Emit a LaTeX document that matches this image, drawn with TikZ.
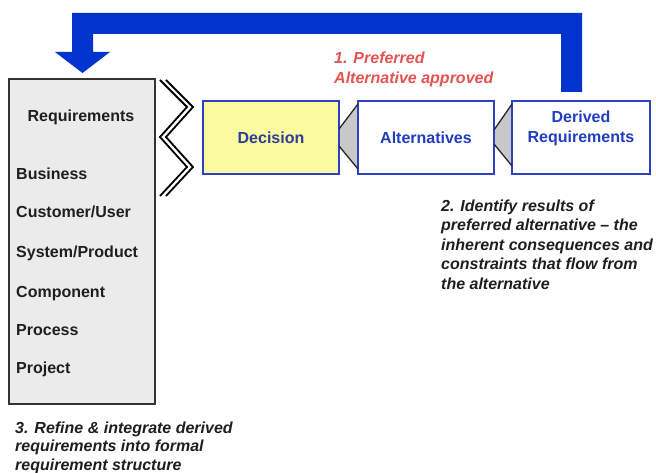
\documentclass[tikz,border=0pt]{standalone}
\usepackage{fontspec}
\setmainfont{Liberation Sans}
\usetikzlibrary{backgrounds}

\definecolor{loopblue}{RGB}{0,52,204}
\definecolor{boxblue}{RGB}{48,64,196}
\definecolor{decfill}{RGB}{250,250,160}
\definecolor{reqfill}{RGB}{235,235,235}
\definecolor{decink}{RGB}{45,62,150}
\definecolor{stageink}{RGB}{32,62,190}
\definecolor{noteink}{RGB}{30,30,30}
\definecolor{approvedred}{RGB}{228,82,82}
\definecolor{wedgegray}{RGB}{200,200,200}

\tikzset{
  stagebox/.style={draw=boxblue, line width=2pt, fill=white,
    minimum width=136pt, minimum height=73pt, inner sep=0pt, outer sep=0pt,
    font=\bfseries\fontsize{16}{20}\selectfont, text=stageink},
  reqbox/.style={draw=black!80, line width=2pt, fill=reqfill,
    minimum width=146pt, minimum height=325pt, inner sep=0pt, outer sep=0pt},
  reqitem/.style={anchor=base west, inner sep=0pt,
    font=\bfseries\fontsize{16}{19}\selectfont, text=noteink},
  note/.style={anchor=north west, inner sep=0pt, align=left,
    font=\bfseries\itshape\fontsize{16}{19.5}\selectfont, text=noteink},
  wedge/.style={fill=wedgegray},
  wedgeedge/.style={draw=black!85, line width=1.3pt},
  zigzag/.style={draw=black, line width=1.8pt, line join=miter},
}

\begin{document}
\begin{tikzpicture}[x=1pt, y=-1pt]
\useasboundingbox (0,0) rectangle (656,473);

% feedback loop back to the requirement set
\fill[loopblue] (582,92) -- (582,13) -- (72,13) -- (72,52) -- (55,52)
  -- (82.5,73) -- (110,52) -- (93,52) -- (93,34) -- (561,34) -- (561,92) -- cycle;

% requirement structure
\node[reqbox] (req) at (82,241.5) {};
\node[reqitem, anchor=base] (reqtitle) at (81,122) {Requirements};
\node[reqitem] (rbus) at (16,180) {Business};
\node[reqitem] (rcus) at (16,218) {Customer/User};
\node[reqitem] (rsys) at (16,258) {System/Product};
\node[reqitem] (rcom) at (16,297) {Component};
\node[reqitem] (rpro) at (16,335) {Process};
\node[reqitem] (rprj) at (16,373) {Project};

% decision chain
\node[stagebox, fill=decfill, text=decink] (dec) at (271,137.5) {Decision};
\node[stagebox] (alt) at (426,137.5) {Alternatives};
\node[stagebox, minimum width=138pt] (der) at (581,137.5) {};
\node[inner sep=0pt, align=center, font=\bfseries\fontsize{16}{20}\selectfont,
  text=stageink] (dertext) at ([yshift=9.5pt]der.center) {Derived\\Requirements};

% wedges linking the stages
\begin{pgfonlayer}{background}
  \fill[wedge] ([yshift=-3pt]alt.north west) -- ([yshift=-28pt]dec.north east)
    -- ([yshift=-45pt]dec.north east) -- ([yshift=5pt]alt.south west) -- cycle;
  \fill[wedge] ([yshift=-3pt]der.north west) -- ([yshift=-29pt]alt.north east)
    -- ([yshift=-43pt]alt.north east) -- ([yshift=8pt]der.south west) -- cycle;
\end{pgfonlayer}
\draw[wedgeedge] ([yshift=-3pt]alt.north west) -- ([yshift=-28pt]dec.north east);
\draw[wedgeedge] ([yshift=-45pt]dec.north east) -- ([yshift=5pt]alt.south west);
\draw[wedgeedge] ([yshift=-3pt]der.north west) -- ([yshift=-29pt]alt.north east);
\draw[wedgeedge] ([yshift=-43pt]alt.north east) -- ([yshift=8pt]der.south west);

% break marks between the requirement set and the decision
\draw[zigzag] (166,80) -- (193,107) -- (166,137) -- (193,167) -- (166,196);
\draw[zigzag] (160,80) -- (187,107) -- (160,137) -- (187,167) -- (160,196);

% step notes
\node[note, text=approvedred] (step1) at (334,52) {1. Preferred\\Alternative approved};
\node[note] (step2) at (441,199.5) {2. Identify results of\\preferred alternative -- the\\inherent consequences and\\constraints that flow from\\the alternative};
\node[note, font=\bfseries\itshape\fontsize{16}{18.5}\selectfont] (step3) at (15,421.5)
  {3. Refine \& integrate derived\\requirements into formal\\requirement structure};
\end{tikzpicture}
\end{document}
